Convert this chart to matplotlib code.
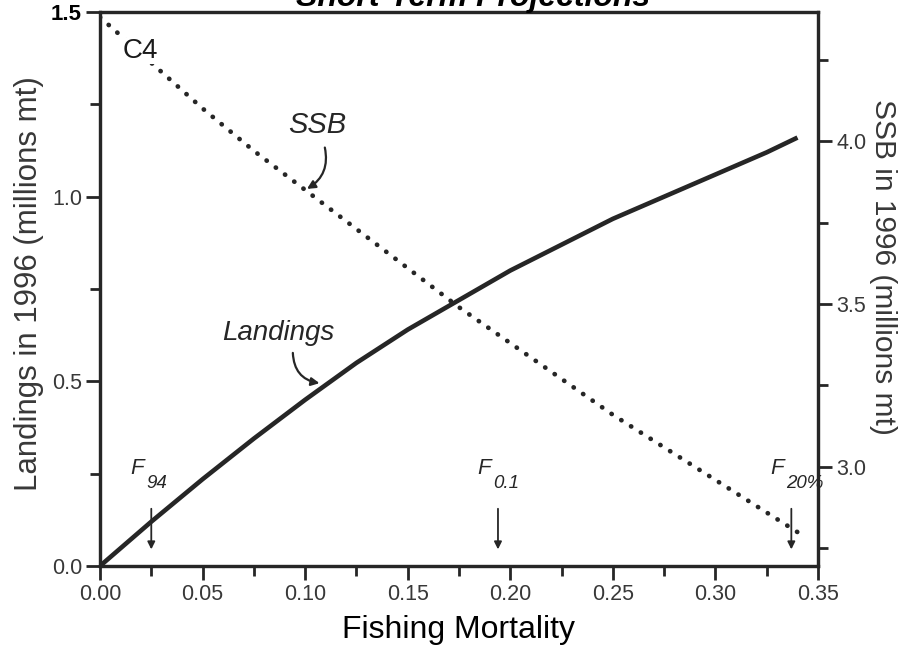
import matplotlib
matplotlib.use("Agg")
import matplotlib.pyplot as plt
from matplotlib.ticker import MultipleLocator, FixedLocator

plt.rcParams['font.family'] = ['Liberation Sans', 'DejaVu Sans']

# ---- data ----
F = [0.0, 0.025, 0.05, 0.075, 0.10, 0.125, 0.15, 0.175, 0.20, 0.225, 0.25, 0.275, 0.30, 0.325, 0.34]
landings = [0.0, 0.12, 0.235, 0.345, 0.45, 0.55, 0.64, 0.72, 0.80, 0.87, 0.94, 1.00, 1.06, 1.12, 1.16]
ssb = [4.38, 4.24, 4.10, 3.97, 3.85, 3.73, 3.61, 3.49, 3.38, 3.27, 3.16, 3.06, 2.96, 2.86, 2.80]

x_ticks = [0.00, 0.05, 0.10, 0.15, 0.20, 0.25, 0.30, 0.35]
x_ticklabels = ["0.00", "0.05", "0.10", "0.15", "0.20", "0.25", "0.30", "0.35"]
left_ticks = [0.0, 0.5, 1.0, 1.5]
left_ticklabels = ["0.0", "0.5", "1.0", "1.5"]
right_ticks = [3.0, 3.5, 4.0]
right_ticklabels = ["3.0", "3.5", "4.0"]

ref_points = {"94": 0.025, "0.1": 0.194, "20%": 0.337}

title = "Short-Term Projections"
xlabel = "Fishing Mortality"
ylabel_left = "Landings in 1996 (millions mt)"
ylabel_right = "SSB in 1996 (millions mt)"

ink = "#262626"
txt = "#383838"

fig = plt.figure(figsize=(9.06, 6.49), dpi=100)
ax = fig.add_axes([100/906, 1-566/649, (818-100)/906, (566-12)/649])
ax2 = ax.twinx()

ax.set_xlim(0, 0.35)
ax.set_ylim(0, 1.5)
ax2.set_ylim(2.696, 4.396)

ax.plot(F, landings, color=ink, lw=3.3, solid_capstyle='butt', solid_joinstyle='round', zorder=3)
ax2.plot(F, ssb, color=ink, lw=3.4, linestyle=(0, (0.05, 2.4)), dash_capstyle='round', zorder=3)

for a in (ax, ax2):
    for s in a.spines.values():
        s.set_linewidth(2.3)
        s.set_color(ink)

ax.xaxis.set_major_locator(FixedLocator(x_ticks))
ax.set_xticklabels(x_ticklabels)
ax.xaxis.set_minor_locator(MultipleLocator(0.025))
ax.yaxis.set_major_locator(FixedLocator(left_ticks))
ax.set_yticklabels(left_ticklabels)
ax.yaxis.set_minor_locator(MultipleLocator(0.25))
ax2.yaxis.set_major_locator(FixedLocator(right_ticks))
ax2.set_yticklabels(right_ticklabels)
ax2.yaxis.set_minor_locator(MultipleLocator(0.25))

ax.tick_params(axis='both', which='major', direction='out', length=10, width=2.0,
               color=ink, labelsize=15.5, labelcolor=txt, pad=3)
ax.tick_params(axis='both', which='minor', direction='out', length=7, width=2.0, color=ink)
ax2.tick_params(axis='y', which='major', direction='out', length=10, width=2.0,
                color=ink, labelsize=15.5, labelcolor=txt, pad=3)
ax2.tick_params(axis='y', which='minor', direction='out', length=7, width=2.0, color=ink)

for lab in ax.get_yticklabels():
    if lab.get_text() == "1.5":
        lab.set_fontweight('bold')
        lab.set_color('black')
        lab.set_fontsize(16)

ax.set_xlabel(xlabel, fontsize=23, color='black')
ax.xaxis.set_label_coords(0.5, -0.088)
ax.set_ylabel(ylabel_left, fontsize=22.5, color=txt)
ax.yaxis.set_label_coords(-0.078, 0.509)
ax2.set_ylabel(ylabel_right, fontsize=21.5, color=txt, rotation=-90, va='center')
ax2.yaxis.set_label_coords(1.09, 0.54)

fig.text(473/906, 1-6/649, title, fontsize=23, style='italic', fontweight='bold',
         color='black', ha='center', va='baseline')

# curve labels (C4 drawn on the twin axes so its white box masks the dotted line)
ax2.text(0.0195, 1.395, "C4", transform=ax.transData, fontsize=20, color='#1a1a1a',
         ha='center', va='center', zorder=5,
         bbox=dict(facecolor='white', edgecolor='none', pad=0.3))
ax.text(0.1058, 1.194, "SSB", fontsize=21, style='italic', color=ink, ha='center', va='center')
ax.annotate("", xy=(0.1009, 1.021), xytext=(0.1096, 1.133),
            arrowprops=dict(arrowstyle='-|>', color=ink, lw=1.6, mutation_scale=12,
                            connectionstyle='arc3,rad=-0.35', shrinkA=0, shrinkB=0))
ax.text(0.087, 0.63, "Landings", fontsize=20, style='italic', color=ink, ha='center', va='center')
ax.annotate("", xy=(0.107, 0.495), xytext=(0.094, 0.577),
            arrowprops=dict(arrowstyle='-|>', color=ink, lw=1.6, mutation_scale=12,
                            connectionstyle='arc3,rad=0.4', shrinkA=0, shrinkB=0))

# reference point arrows
for sub, xv in ref_points.items():
    ax.annotate("", xy=(xv, 0.045), xytext=(xv, 0.155),
                arrowprops=dict(arrowstyle='-|>', color=ink, lw=1.3, mutation_scale=11,
                                shrinkA=0, shrinkB=0))
    ax.text(xv - 0.0035, 0.25, "F", fontsize=16, style='italic', color=ink, ha='right', va='baseline')
    ax.text(xv - 0.0025, 0.21, sub, fontsize=13.5, style='italic', color=ink, ha='left', va='baseline')

fig.savefig("out.png", dpi=100)
